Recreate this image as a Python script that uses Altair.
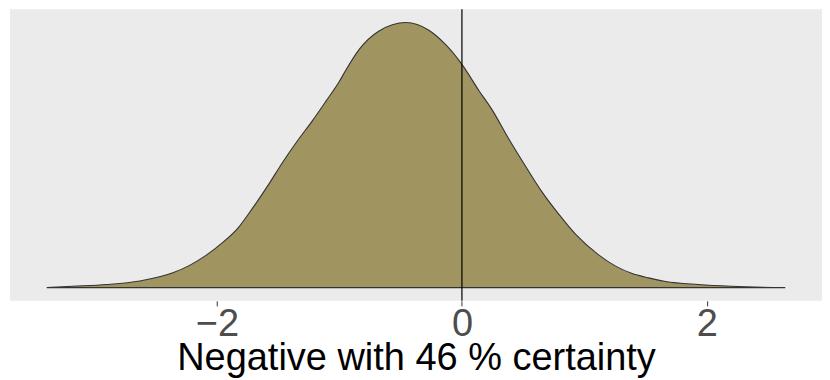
import altair as alt
import pandas as pd

# Density curve
x_vals = [-3.39, -3.18, -2.90, -2.63, -2.36, -2.22, -2.09, -1.96, -1.82, -1.74,
          -1.57, -1.47, -1.35, -1.22, -1.11, -1.00, -0.945, -0.84, -0.68, -0.456,
          -0.27, -0.13, 0.0, 0.138, 0.244, 0.383, 0.521, 0.652, 0.790, 0.929,
          1.116, 1.255, 1.385, 1.523, 1.662, 1.93, 2.20, 2.64]
density = [0.0, 0.0025, 0.006, 0.013, 0.029, 0.044, 0.063, 0.087, 0.119, 0.145,
           0.205, 0.243, 0.285, 0.327, 0.365, 0.404, 0.427, 0.466, 0.502, 0.519,
           0.504, 0.475, 0.437, 0.386, 0.349, 0.291, 0.237, 0.188, 0.144, 0.104,
           0.064, 0.042, 0.028, 0.019, 0.012, 0.006, 0.0025, 0.0]

tick_values = [-2, 0, 2]
ref_line = [0]
title_text = "Negative with 46 % certainty"

df = pd.DataFrame({"x": x_vals, "y": density})
df_rule = pd.DataFrame({"x": ref_line})

xscale = alt.Scale(domain=[-3.69, 2.94], nice=False, zero=False)
yscale = alt.Scale(domain=[-0.026, 0.545], nice=False, zero=False)

area = alt.Chart(df).mark_area(
    interpolate="monotone", fill="#A09560", stroke="#333333", strokeWidth=1.1
).encode(
    x=alt.X("x:Q", scale=xscale,
            axis=alt.Axis(values=tick_values, format="d", title=title_text)),
    y=alt.Y("y:Q", scale=yscale, axis=None),
)

rule = alt.Chart(df_rule).mark_rule(color="black", strokeWidth=1.2).encode(
    x=alt.X("x:Q", scale=xscale)
)

chart = (area + rule).properties(
    width=813, height=292,
    padding={"left": 2, "top": 0, "right": 0, "bottom": 0},
).configure_view(
    fill="#EBEBEB", stroke=None
).configure_axis(
    domain=False, grid=False,
    ticks=True, tickColor="#333333", tickSize=5, tickWidth=1,
    labelFont="Liberation Sans", labelFontSize=38, labelColor="#4D4D4D",
    labelPadding=0,
    titleFont="Liberation Sans", titleFontSize=38, titleFontWeight="normal",
    titleColor="black", titleY=69, titleBaseline="alphabetic",
)

chart.save("out.html", embed_options={"renderer": "svg", "actions": False})
